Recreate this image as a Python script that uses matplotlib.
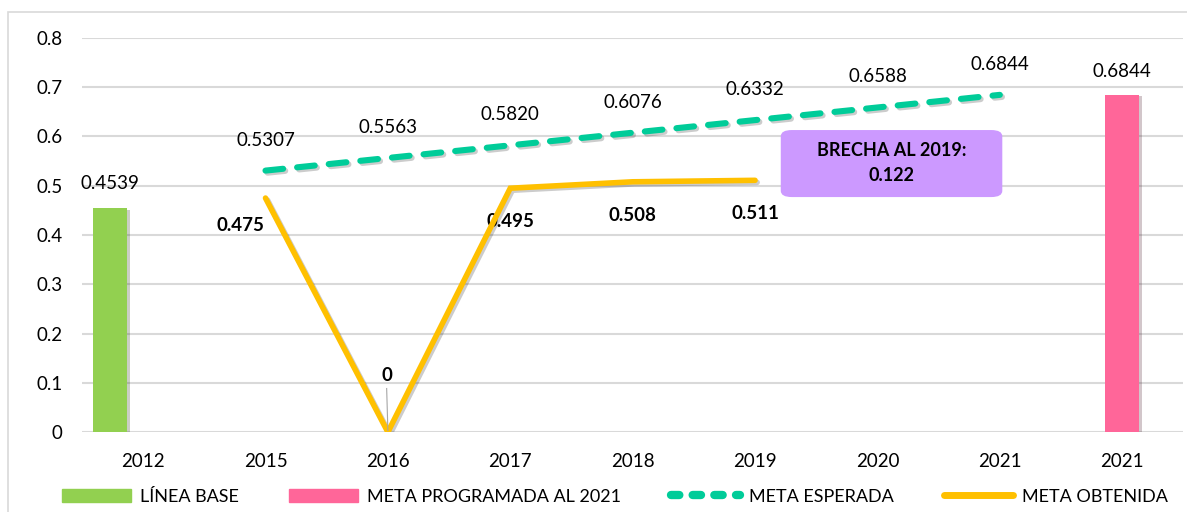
import matplotlib

matplotlib.use("Agg")

import matplotlib.pyplot as plt
import matplotlib.patheffects as pe
from matplotlib.patches import FancyBboxPatch, Rectangle
from matplotlib.lines import Line2D
import numpy as np

plt.rcParams["font.family"] = ["Lato", "DejaVu Sans"]

# data
categories = ["2012", "2015", "2016", "2017", "2018", "2019", "2020", "2021", "2021"]
linea_base_idx = [0]
linea_base = [0.4539]
meta_programada_idx = [8]
meta_programada = [0.6844]
esperada_idx = [1, 2, 3, 4, 5, 6, 7]
meta_esperada = [0.5307, 0.5563, 0.5820, 0.6076, 0.6332, 0.6588, 0.6844]
obtenida_idx = [1, 2, 3, 4, 5]
meta_obtenida = [0.475, 0, 0.495, 0.508, 0.511]
y_ticks = [0, 0.1, 0.2, 0.3, 0.4, 0.5, 0.6, 0.7, 0.8]

GREEN = "#92D050"
PINK = "#FF6699"
TEAL = "#00CC99"
GOLD = "#FFC000"
PURPLE = "#CC99FF"
GRID = "#D9D9D9"

fig = plt.figure(figsize=(11.87, 5.12), dpi=100)
ax = fig.add_axes([0.069, 0.156, 0.928, 0.770])

# figure frame
fig.patches.append(Rectangle((8 / 1187, -0.05), 1.2, 1 - 12 / 512 + 0.05, transform=fig.transFigure,
                             fill=False, edgecolor=GRID, linewidth=1.2, zorder=0))

shadow = [pe.SimplePatchShadow(offset=(2, -1), alpha=0.25), pe.Normal()]
line_shadow = [pe.SimpleLineShadow(offset=(1.5, -1.5), alpha=0.2), pe.Normal()]

x = np.arange(len(categories))
bar_w = 0.28
ax.bar(x[linea_base_idx] - 0.27, linea_base, width=bar_w, color=GREEN, zorder=3, path_effects=shadow)
ax.bar(x[meta_programada_idx], meta_programada, width=bar_w, color=PINK, zorder=3, path_effects=shadow)

ax.plot(x[esperada_idx], meta_esperada, color=TEAL, linewidth=4.4, dashes=(2.9, 2.3),
        dash_capstyle="round", zorder=4, path_effects=line_shadow)
ax.plot(x[obtenida_idx], meta_obtenida, color=GOLD, linewidth=4.0, solid_capstyle="round",
        solid_joinstyle="miter", zorder=5, path_effects=line_shadow)

fs = 13.5
# value labels
for xi, v in zip(x[linea_base_idx] - 0.27, linea_base):
    ax.annotate(f"{v:.4f}", (xi, v), xytext=(0, 18), textcoords="offset points",
                ha="center", va="center", fontsize=fs)
for xi, v in zip(x[meta_programada_idx], meta_programada):
    ax.annotate(f"{v:.4f}", (xi, v), xytext=(0, 17), textcoords="offset points",
                ha="center", va="center", fontsize=fs)
for xi, v in zip(x[esperada_idx], meta_esperada):
    ax.annotate(f"{v:.4f}", (xi, v), xytext=(0, 22), textcoords="offset points",
                ha="center", va="center", fontsize=fs)
for xi, v in zip(x[obtenida_idx], meta_obtenida):
    if v == 0:
        ax.annotate("0", (xi, v), xytext=(-1, 41), textcoords="offset points",
                    ha="center", va="center", fontsize=fs, fontweight="bold")
        ax.plot([xi - 0.01, xi], [0.0885, 0.003], color="#A6A6A6", linewidth=0.8, zorder=6)
    elif xi == 1:
        ax.annotate(f"{v:.3f}", (xi, v), xytext=(-18, -20), textcoords="offset points",
                    ha="center", va="center", fontsize=fs, fontweight="bold")
    else:
        ax.annotate(f"{v:.3f}", (xi, v), xytext=(0, -24), textcoords="offset points",
                    ha="center", va="center", fontsize=fs, fontweight="bold")

# gap callout
brecha = meta_esperada[esperada_idx.index(5)] - meta_obtenida[obtenida_idx.index(5)]
box = FancyBboxPatch((5.21, 0.477), 1.81, 0.136, boxstyle="round,pad=0,rounding_size=0.09",
                     mutation_aspect=0.14, facecolor=PURPLE, edgecolor="none", zorder=6)
ax.add_patch(box)
ax.text(6.115, 0.546, f"BRECHA AL 2019:\n{brecha:.3f}", ha="center", va="center",
        fontsize=13, fontweight="bold", linespacing=1.55, zorder=7)

ax.set_xlim(-0.5, len(categories) - 0.5)
ax.set_ylim(0, 0.8)
ax.set_xticks(x)
ax.set_xticklabels(categories, fontsize=fs)
ax.set_yticks(y_ticks)
ax.set_yticklabels([f"{t:g}" for t in y_ticks], fontsize=fs)
ax.tick_params(length=0)
ax.tick_params(axis="x", pad=15)
ax.tick_params(axis="y", pad=14)
ax.yaxis.grid(True, color=GRID, linewidth=1.5)
ax.set_axisbelow(True)
for s in ax.spines.values():
    s.set_visible(False)

handles = [
    Rectangle((0, 0), 1, 1, color=GREEN),
    Rectangle((0, 0), 1, 1, color=PINK),
    Line2D([], [], color=TEAL, linewidth=6, dashes=(1, 1.6), dash_capstyle="round"),
    Line2D([], [], color=GOLD, linewidth=5, solid_capstyle="round"),
]
labels = ["LÍNEA BASE", "META PROGRAMADA AL 2021", "META ESPERADA", "META OBTENIDA"]
fig.legend(handles, labels, loc="center", bbox_to_anchor=(0.518, 0.03), ncol=4, frameon=False,
           fontsize=13, handlelength=3.8, handleheight=0.8, handletextpad=0.5, columnspacing=2.8)

fig.savefig("out.png", dpi=100)
